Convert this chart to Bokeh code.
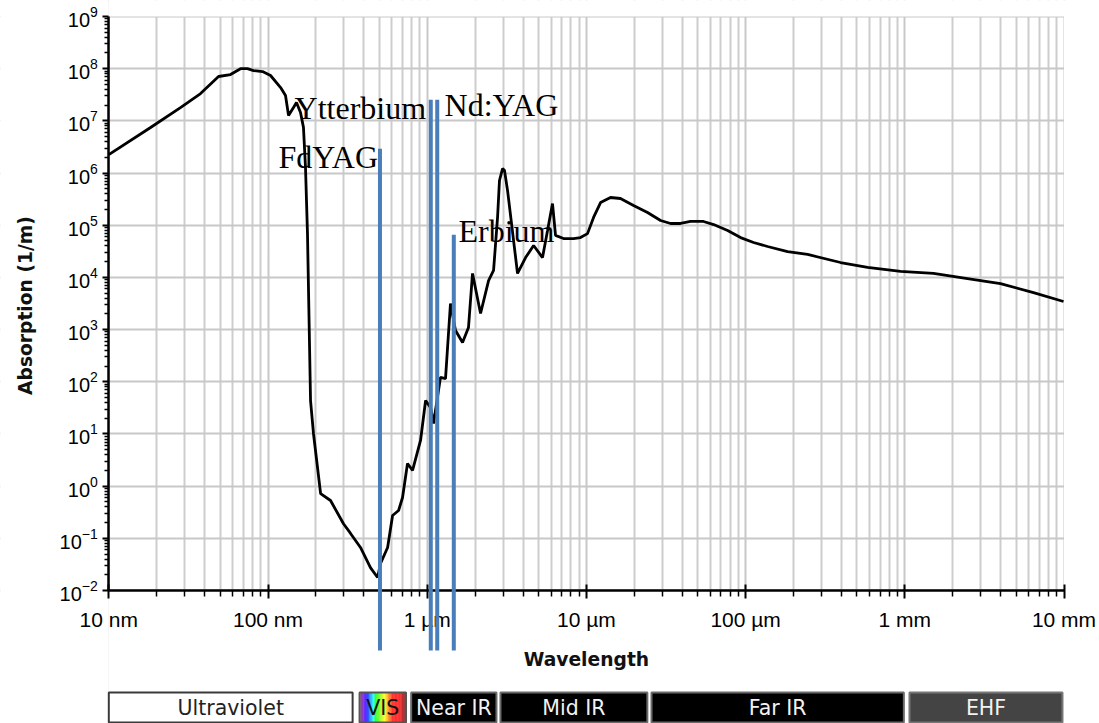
import numpy as np
from bokeh.plotting import figure
from bokeh.models import Range1d, FixedTicker, Label
from bokeh.embed import file_html
from bokeh.resources import INLINE

# ---------------- data ----------------
wavelength_nm = [10, 18.3, 28.2, 37.7, 48.9, 58.1, 67.2, 74.3, 81.1, 92.4, 103.7, 120, 128.8, 134.6,
                 144.6, 151, 160, 167, 172, 177, 185, 193, 214, 247, 298, 330, 381, 440, 488, 509,
                 564, 606, 661, 700, 752, 809, 908, 977, 1050, 1096, 1211, 1303, 1400, 1506, 1667,
                 1817, 1926, 2163, 2429, 2611, 2766, 2844, 2974, 3059, 3197, 3693, 4149, 4660, 5300,
                 5700, 6124, 6398, 7180, 8297, 9180, 10160, 11090, 12270, 14170, 16370, 19770,
                 24200, 29240, 33760, 39000, 45080, 54450, 62950, 77090, 92960, 112200, 137400,
                 183600, 245000, 394700, 583400, 939800, 1514000, 2477000, 3990000, 6430000, 9930000]
absorption = [2.26e6, 7.46e6, 1.8e7, 3.34e7, 7.08e7, 7.73e7, 1.0e8, 1.0e8, 9.2e7, 8.8e7, 7.4e7,
              4.35e7, 3.06e7, 1.27e7, 1.8e7, 2.25e7, 1.45e7, 7.5e6, 1.28e6, 6.9e4, 43.7, 10.2,
              0.72, 0.53, 0.19, 0.124, 0.0667, 0.0275, 0.0177, 0.0329, 0.0667, 0.273, 0.341,
              0.605, 2.72, 2.0, 7.5, 43.7, 32, 15.8, 121, 115, 3160, 960, 565, 1100, 11900, 2030,
              8700, 13600, 1.41e5, 7.2e5, 1.22e6, 1.12e6, 4.6e5, 1.19e4, 2.4e4, 4.08e4, 2.4e4,
              7.9e4, 2.6e5, 6.4e4, 5.56e4, 5.56e4, 5.8e4, 6.9e4, 1.41e5, 2.72e5, 3.4e5, 3.25e5,
              2.39e5, 1.75e5, 1.23e5, 1.08e5, 1.08e5, 1.18e5, 1.18e5, 1.03e5, 7.9e4, 5.8e4,
              4.67e4, 3.91e4, 3.13e4, 2.75e4, 1.93e4, 1.55e4, 1.3e4, 1.19e4, 9.5e3, 7.6e3,
              5.1e3, 3.45e3]

laser_names = ["FdYAG", "Ytterbium", "Nd:YAG", "Erbium"]
laser_nm = [505, 1053, 1156, 1469]
laser_top = [2.92e6, 2.54e7, 2.54e7, 6.6e4]
laser_bottom = 7.1e-4

x_tick_values = [10, 100, 1000, 10000, 100000, 1000000, 10000000]
x_tick_labels = ["10 nm", "100 nm", "1 µm", "10 µm", "100 µm", "1 mm", "10 mm"]
y_tick_exponents = list(range(-2, 10))

band_names = ["Ultraviolet", "VIS", "Near IR", "Mid IR", "Far IR", "EHF"]
band_start_nm = [10, 376, 793, 2886, 25640, 1070000]
band_end_nm = [340, 736, 2723, 24150, 986000, 9780000]
band_fill = ["white", None, "black", "black", "black", "#444444"]
band_line = ["#3a3a3a", "#555555", "#6a6a6a", "#6a6a6a", "#6a6a6a", "#777777"]
band_text_color = ["#222222", "#111111", "#f2f2f2", "#f2f2f2", "#f2f2f2", "#f2f2f2"]

# ---------------- figure ----------------
W, H = 1099, 723
X_MIN, X_MAX = 10.0, 1e7          # data extent of the plot area
Y_MIN, Y_MAX = 1e-2, 1e9
x_start, x_end = 10 ** 0.3197, 10 ** 7.2229
y_start, y_end = 10 ** -4.549, 10 ** 9.3066
BAND_TOP = 10 ** -3.955
BAND_BOTTOM = 10 ** -4.53

p = figure(width=W, height=H, x_axis_type="log", y_axis_type="log",
           x_range=Range1d(x_start, x_end), y_range=Range1d(y_start, y_end),
           output_backend="svg", toolbar_location=None,
           min_border_left=0, min_border_right=0, min_border_top=0, min_border_bottom=0)
p.outline_line_color = None
p.background_fill_color = "white"
p.border_fill_color = "white"

x_minor = [k * 10 ** n for n in range(1, 7) for k in range(2, 10)]
y_major = [10.0 ** e for e in y_tick_exponents]
y_minor = [k * 10.0 ** n for n in range(-2, 9) for k in range(2, 10)]
xticker = FixedTicker(ticks=x_tick_values, minor_ticks=x_minor)
yticker = FixedTicker(ticks=y_major, minor_ticks=y_minor)

# grids
p.xgrid.ticker = xticker
p.ygrid.ticker = yticker
p.xgrid.grid_line_color = "#c8c8c8"
p.xgrid.grid_line_width = 2
p.xgrid.minor_grid_line_color = "#cdcdcd"
p.xgrid.minor_grid_line_width = 2
p.ygrid.grid_line_color = "#c8c8c8"
p.ygrid.grid_line_width = 2
p.ygrid.minor_grid_line_color = None

# x axis, drawn at y = 1e-2
xa = p.xaxis[0]
xa.ticker = xticker
xa.fixed_location = Y_MIN
xa.bounds = (X_MIN, X_MAX)
xa.major_label_overrides = dict(zip(x_tick_values, x_tick_labels))
xa.axis_line_width = 2.5
xa.axis_line_color = "black"
xa.major_tick_line_width = 2
xa.minor_tick_line_width = 1.5
xa.major_tick_in = 6
xa.major_tick_out = 8
xa.minor_tick_in = 0
xa.minor_tick_out = 6
xa.major_label_standoff = 10
xa.major_label_text_font = "Liberation Sans"
xa.major_label_text_font_size = "21px"
xa.major_label_text_color = "black"

# y axis, drawn at x = 10 nm
ya = p.yaxis[0]
ya.ticker = yticker
ya.fixed_location = X_MIN
ya.bounds = (Y_MIN, Y_MAX)
ya.axis_line_width = 2.5
ya.major_tick_line_width = 2
ya.minor_tick_line_width = 1.5
ya.major_tick_in = 0
ya.major_tick_out = 6
ya.minor_tick_in = 0
ya.minor_tick_out = 4
ya.major_label_standoff = 5
ya.major_label_text_font = "Liberation Sans"
ya.major_label_text_font_size = "20px"
ya.major_label_text_color = "black"

# white masks around the plot area (hide grid lines outside it)
p.quad(left=[x_start, X_MAX, X_MIN, X_MIN], right=[X_MIN, x_end, X_MAX, X_MAX],
       bottom=[y_start, y_start, Y_MAX, y_start], top=[y_end, y_end, y_end, Y_MIN],
       fill_color="white", line_color=None)

# absorption curve
p.line(wavelength_nm, absorption, line_width=2.8, line_color="black")

# axis titles
p.add_layout(Label(x=10000, y=10 ** -3.323, text="Wavelength", text_align="center",
                   text_baseline="middle", text_font="DejaVu Sans", text_font_style="bold",
                   text_font_size="18.7px", text_color="#111111"))
p.add_layout(Label(x=3.0, y=10 ** 3.46, text="Absorption (1/m)", angle=np.pi / 2,
                   text_align="center", text_baseline="middle", text_font="DejaVu Sans",
                   text_font_style="bold", text_font_size="18.7px", text_color="#111111"))

# spectral bands
def wl_rgb(w):
    if w < 440:
        r, g, b = -(w - 440) / 60.0, 0.0, 1.0
    elif w < 490:
        r, g, b = 0.0, (w - 440) / 50.0, 1.0
    elif w < 510:
        r, g, b = 0.0, 1.0, -(w - 510) / 20.0
    elif w < 580:
        r, g, b = (w - 510) / 70.0, 1.0, 0.0
    elif w < 645:
        r, g, b = 1.0, -(w - 645) / 65.0, 0.0
    else:
        r, g, b = 1.0, 0.0, 0.0
    if w < 420:
        f = 0.3 + 0.7 * (w - 380) / 40.0
    elif w > 700:
        f = 0.3 + 0.7 * (750 - w) / 50.0
    else:
        f = 1.0
    r, g, b = [max(0.0, min(1.0, c * f)) for c in (r, g, b)]
    if w < 400:
        mix = (400 - w) / 20.0 * 0.5
        r, g, b = [c + (1 - c) * mix for c in (r, g, b)]
    return "#%02x%02x%02x" % tuple(int(round(c * 255)) for c in (r, g, b))

for i, name in enumerate(band_names):
    s, e = band_start_nm[i], band_end_nm[i]
    if band_fill[i] is None:
        n = 60
        edges = np.logspace(np.log10(s), np.log10(e), n + 1)
        cols = [wl_rgb(380 + (750 - 380) * (k + 0.5) / n) for k in range(n)]
        p.quad(left=edges[:-1], right=edges[1:], bottom=BAND_BOTTOM, top=BAND_TOP,
               fill_color=cols, line_color=None)
        p.quad(left=[s], right=[e], bottom=[BAND_BOTTOM], top=[BAND_TOP],
               fill_color=None, line_color=band_line[i], line_width=2)
    else:
        p.quad(left=[s], right=[e], bottom=[BAND_BOTTOM], top=[BAND_TOP],
               fill_color=band_fill[i], line_color=band_line[i], line_width=2)
    p.add_layout(Label(x=float(np.sqrt(s * e)), y=10 ** -4.243, text=name,
                       text_align="center", text_baseline="middle",
                       text_font="DejaVu Sans", text_font_size="20.5px",
                       text_color=band_text_color[i]))

# laser lines
p.segment(x0=laser_nm, y0=[laser_bottom] * len(laser_nm), x1=laser_nm, y1=laser_top,
          line_width=4, line_color="#4a7ebb", level="overlay")

label_pos = {"FdYAG": (116.4, 1.99e6), "Ytterbium": (146.8, 1.8e7),
             "Nd:YAG": (1285, 1.97e7), "Erbium": (1573, 7.9e4)}
for name in laser_names:
    lx, ly = label_pos[name]
    p.add_layout(Label(x=lx, y=ly, text=name, text_align="left", text_baseline="alphabetic",
                       text_font="Liberation Serif", text_font_size="32px", text_color="black"))

open("out.html", "w").write(file_html(p, INLINE))
